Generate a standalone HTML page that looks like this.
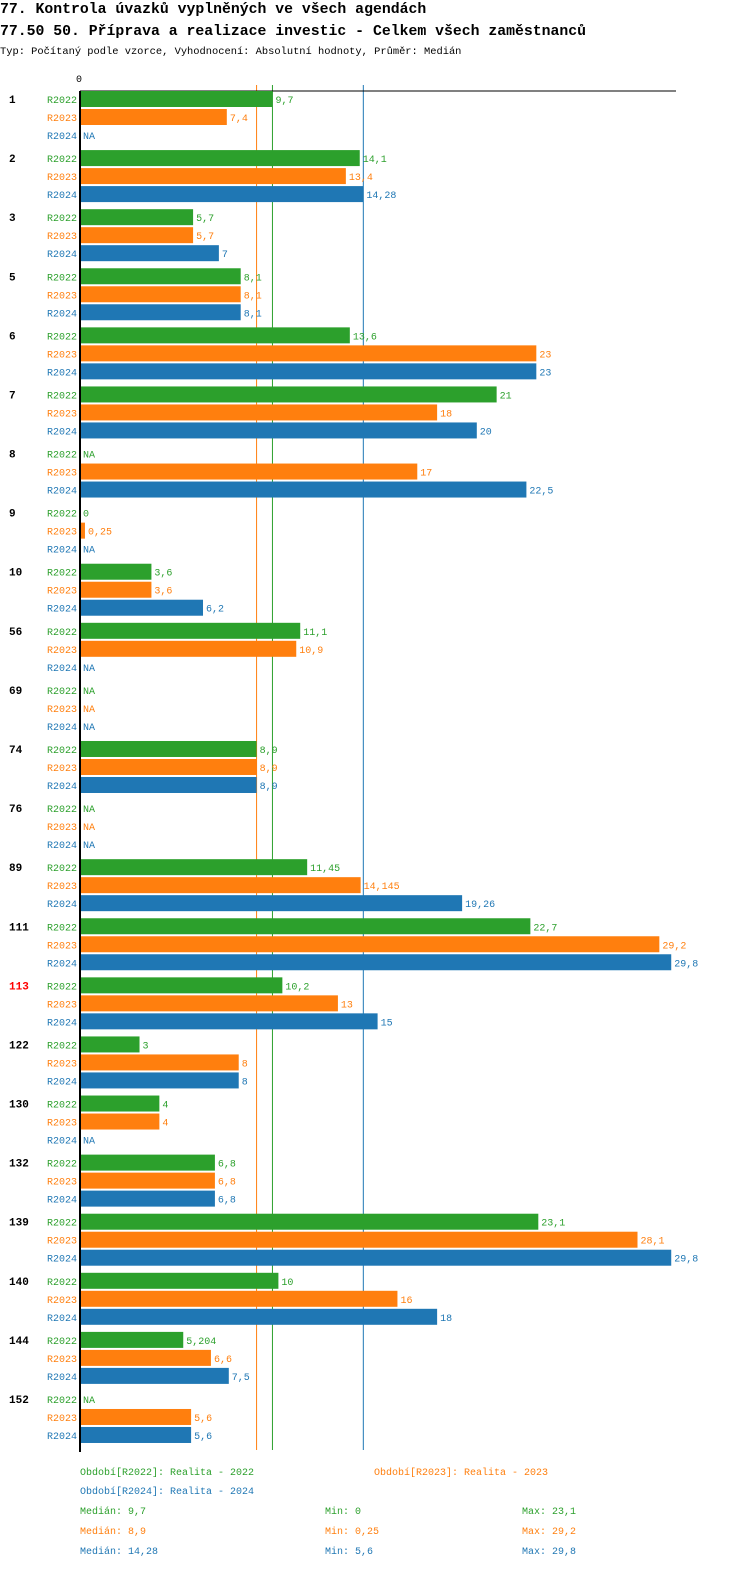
<!DOCTYPE html>
<html><head><meta charset="utf-8"><style>
body{margin:0;background:#fff;width:750px;height:1592px;overflow:hidden}
svg{display:block}
text{font-family:"Liberation Mono",monospace}
</style></head><body>
<svg id="c" width="750" height="1592">
<text x="0" y="13" font-size="14.8" font-weight="bold">77. Kontrola úvazků vyplněných ve všech agendách</text>
<text x="0" y="35" font-size="14.8" font-weight="bold">77.50 50. Příprava a realizace investic - Celkem všech zaměstnanců</text>
<text x="0" y="54" font-size="10.4">Typ: Počítaný podle vzorce, Vyhodnocení: Absolutní hodnoty, Průměr: Medián</text>
</svg>
<script>
const categories=["1","2","3","5","6","7","8","9","10","56","69","74","76","89","111","113","122","130","132","139","140","144","152"];
const seriesNames=["R2022","R2023","R2024"];
const r2022=[9.7,14.1,5.7,8.1,13.6,21,null,0,3.6,11.1,null,8.9,null,11.45,22.7,10.2,3,4,6.8,23.1,10,5.204,null];
const r2023=[7.4,13.4,5.7,8.1,23,18,17,0.25,3.6,10.9,null,8.9,null,14.145,29.2,13,8,4,6.8,28.1,16,6.6,5.6];
const r2024=[null,14.28,7,8.1,23,20,22.5,null,6.2,null,null,8.9,null,19.26,29.8,15,8,null,6.8,29.8,18,7.5,5.6];
const medians=[9.7,8.9,14.28];
const mins=["0","0,25","5,6"];
const maxs=["23,1","29,2","29,8"];
const colors=["#2ca02c","#ff7f0e","#1f77b4"];
const series=[r2022,r2023,r2024];
const svg=document.getElementById('c');
const NS="http://www.w3.org/2000/svg";
const x0=80,scale=19.84;
const xs=v=>x0+v*scale;
const gy=i=>99+i*59.09;
function mk(tag,attrs,txt){const e=document.createElementNS(NS,tag);for(const k in attrs)e.setAttribute(k,attrs[k]);if(txt!=null)e.textContent=txt;svg.appendChild(e);return e;}
const fmt=v=>String(v).replace('.',',');
let e;
e=mk('text',{x:76,y:82,'font-size':10},'0');


medians.forEach((m,j)=>{
  e=mk('line',{x1:xs(m),y1:85,x2:xs(m),y2:1450,stroke:colors[j],'stroke-width':1});
  
  
});
e=mk('line',{x1:x0,y1:91,x2:676,y2:91,stroke:'#000','stroke-width':1});


categories.forEach((c,i)=>{
  const y=gy(i);
  e=mk('text',{x:9,y:y+4,'font-size':11,'font-weight':'bold',fill:c==="113"?'#ff0000':'#000'},c);
  
  
  series.forEach((s,j)=>{
    const cy=y+j*18;
    e=mk('text',{x:77,y:cy+4,'font-size':10,fill:colors[j],'text-anchor':'end'},seriesNames[j]);
    
    
    const v=s[i];
    if(v===null){
      e=mk('text',{x:83,y:cy+4,'font-size':10,fill:colors[j]},'NA');
      
      
    }else{
      const w=xs(v)-x0;
      if(w>0){
        e=mk('rect',{x:x0,y:cy-8,width:w,height:16,fill:colors[j]});
        
        
      }
      e=mk('text',{x:xs(v)+3,y:cy+4,'font-size':10,fill:colors[j]},fmt(v));
      
      
    }
  });
});
e=mk('line',{x1:x0,y1:91,x2:x0,y2:1452,stroke:'#000','stroke-width':2});


const leg=[[80,1475,"Období[R2022]: Realita - 2022"],[374,1475,"Období[R2023]: Realita - 2023"],[80,1494,"Období[R2024]: Realita - 2024"]];
leg.forEach((l,j)=>{
  e=mk('text',{x:l[0],y:l[1],'font-size':10,fill:colors[j]},l[2]);
  
  
});
medians.forEach((m,j)=>{
  const y=1514+j*20;
  e=mk('text',{x:80,y:y,'font-size':10,fill:colors[j]},'Medián: '+fmt(m));
  
  
  e=mk('text',{x:325,y:y,'font-size':10,fill:colors[j]},'Min: '+mins[j]);
  
  
  e=mk('text',{x:522,y:y,'font-size':10,fill:colors[j]},'Max: '+maxs[j]);
  
  
});
</script>
</body></html>
